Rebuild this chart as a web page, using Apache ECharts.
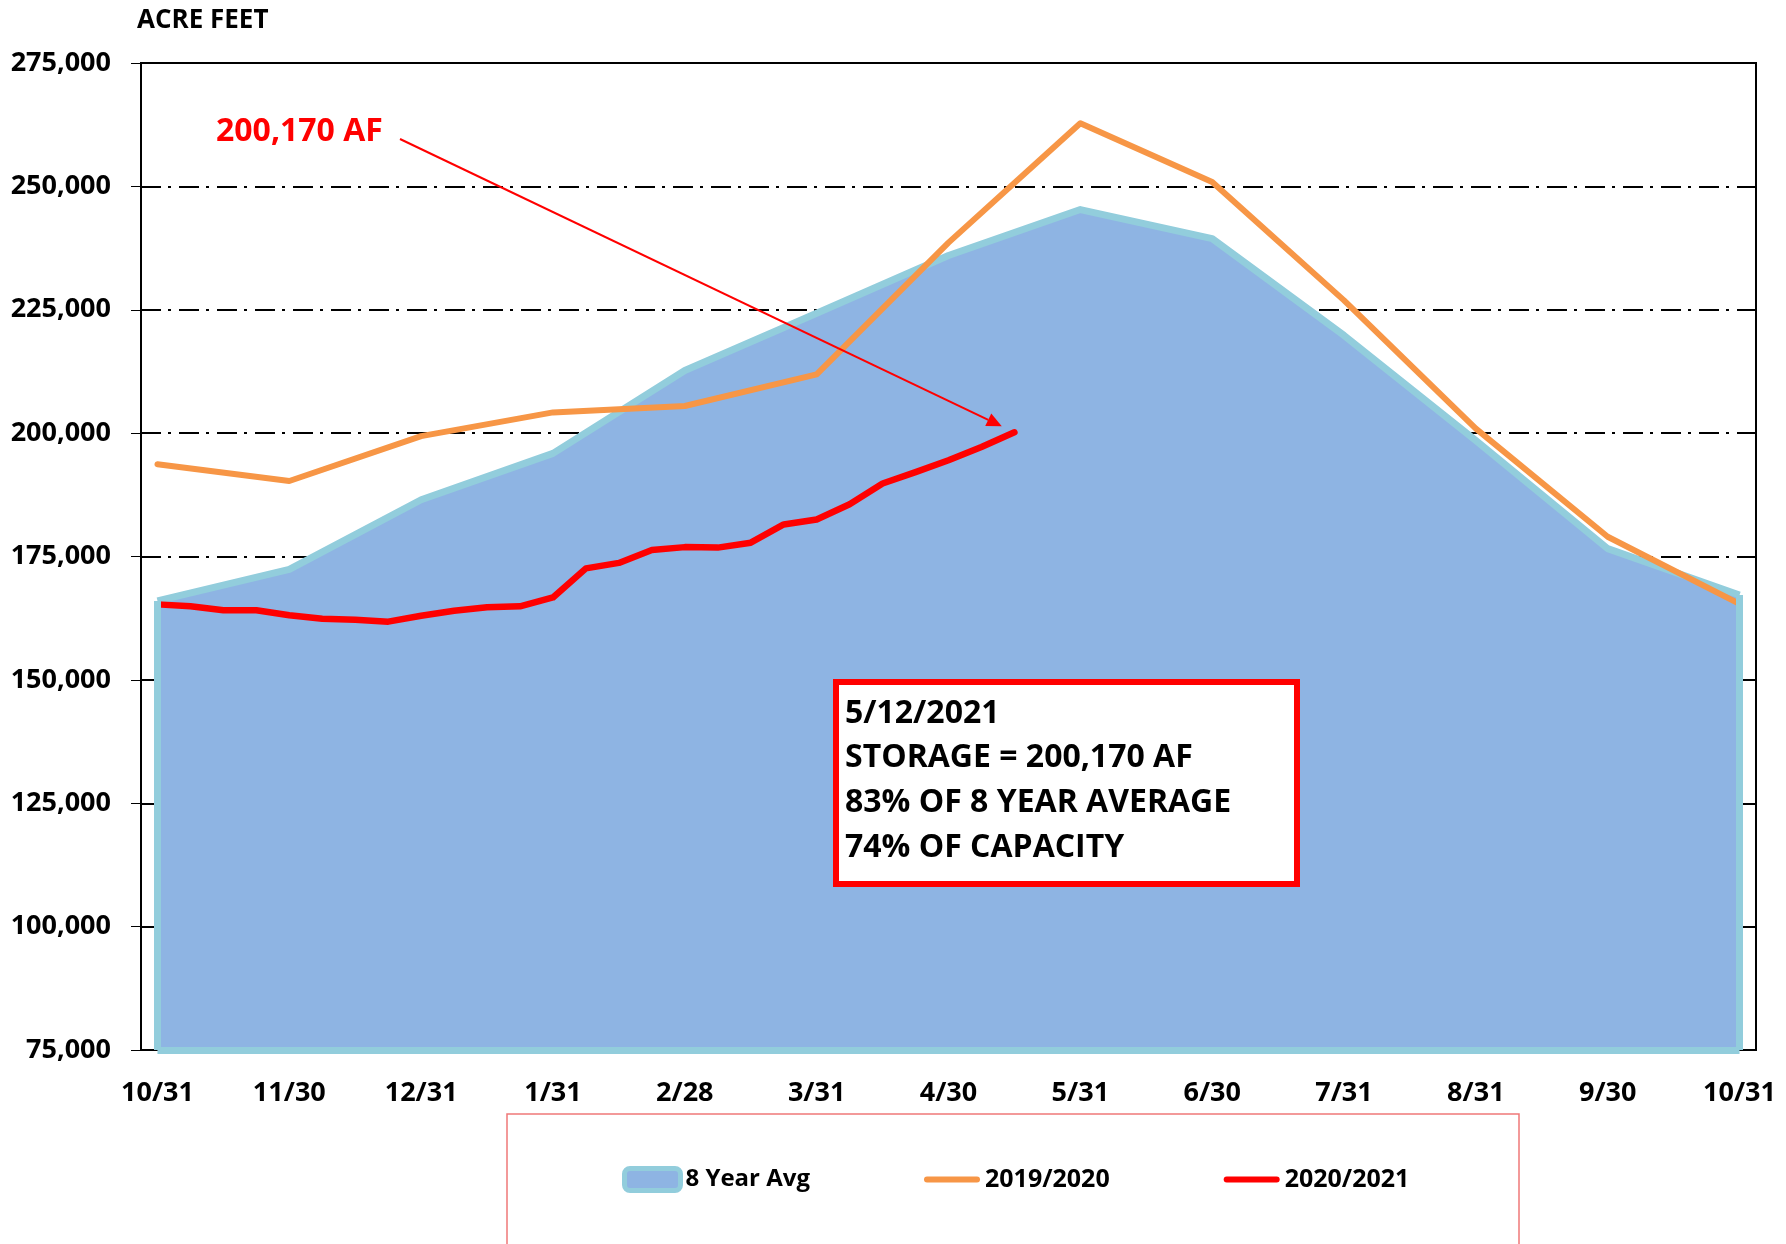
<!DOCTYPE html>
<html><head><meta charset="utf-8">
<script src="https://cdn.jsdelivr.net/npm/echarts@6/dist/echarts.min.js"></script>
<style>html,body{margin:0;padding:0;background:#fff}#c{width:1786px;height:1244px}</style>
</head><body><div id="c"></div>
<script>
// ---- data ----
const monthLabels = ['10/31','11/30','12/31','1/31','2/28','3/31','4/30','5/31','6/30','7/31','8/31','9/30','10/31'];
const avg8yr  = [166000,172400,186500,195900,212700,224300,236000,245300,239400,219800,198500,176600,167200];
const y20192020 = [193700,190300,199400,204200,205500,211900,238600,262800,250900,226900,200900,179000,165400];
const y20202021 = [165300,164900,164100,164100,163100,162400,162200,161800,163000,164000,164700,164900,166700,
                   172600,173700,176300,176900,176800,177800,181500,182500,185600,189800,192100,194500,197200,200170];
const reportDate = '5/12/2021';
const pctOfAvg = 83;
const pctOfCapacity = 74;
const stepsPerMonth = 4;

// ---- build ----
const nCats = (monthLabels.length - 1) * stepsPerMonth + 1;
const cats = Array.from({length: nCats}, (_, i) => 'c' + i);
const W = 700;
const fmt = v => v.toLocaleString('en-US');
const lastIdx = y20202021.length - 1;
const lastVal = y20202021[lastIdx];
const lineIcon = 'path://M3,0H53A3,3,0,0,1,53,6H3A3,3,0,0,1,3,0Z';

const chart = echarts.init(document.getElementById('c'));
const option = {
  animation: false,
  backgroundColor: '#fff',
  textStyle: {fontFamily: 'Open Sans'},
  title: {text: 'ACRE FEET', left: 132, top: 3,
    textStyle: {fontFamily: 'Open Sans', fontWeight: W, fontSize: 26, color: '#000'}},
  grid: {left: 141, right: 30, top: 63, bottom: 194, show: true, borderColor: '#000', borderWidth: 2},
  xAxis: [{
    type: 'category', data: cats, boundaryGap: true,
    axisLine: {lineStyle: {color: '#000', width: 2}},
    axisTick: {interval: 0, length: 10, lineStyle: {color: '#000', width: 1}},
    axisLabel: {interval: stepsPerMonth - 1, margin: 30, color: '#000', fontFamily: 'Open Sans', fontWeight: W, fontSize: 27,
      formatter: (v, i) => monthLabels[Math.round(i / stepsPerMonth)]},
    splitLine: {show: false}
  }, {
    type: 'category', data: cats, boundaryGap: true, position: 'bottom',
    axisLine: {show: false},
    axisTick: {interval: 0, inside: true, length: 10, lineStyle: {color: '#000', width: 1}},
    axisLabel: {show: false}, splitLine: {show: false}
  }],
  yAxis: {
    type: 'value', min: 75000, max: 275000, interval: 25000,
    axisLine: {show: true, lineStyle: {color: '#000', width: 2}},
    axisTick: {show: true, length: 10, lineStyle: {color: '#000', width: 1}},
    axisLabel: {margin: 30, color: '#000', fontFamily: 'Open Sans', fontWeight: W, fontSize: 27, formatter: v => fmt(v)},
    splitLine: {show: true, lineStyle: {color: '#000', width: 2, type: [20, 7, 3, 8]}}
  },
  legend: {
    left: 617, top: 1161, itemWidth: 56, itemHeight: 22, itemGap: 114,
    textStyle: {fontFamily: 'Open Sans', fontWeight: W, fontSize: 25, color: '#000'},
    data: [
      {name: '8 Year Avg', icon: 'roundRect', itemStyle: {color: '#8eb4e3', borderColor: '#92cddc', borderWidth: 5},
        textStyle: {fontSize: 24}},
      {name: '2019/2020', icon: lineIcon},
      {name: '2020/2021', icon: lineIcon}
    ]
  },
  series: [{
    name: '8 Year Avg', type: 'line', z: 2,
    data: avg8yr.map((v, k) => [k * stepsPerMonth, v]),
    symbol: 'none',
    lineStyle: {color: '#92cddc', width: 7, join: 'round'},
    itemStyle: {color: '#8eb4e3'},
    areaStyle: {color: '#8eb4e3', opacity: 1, origin: 'start'},
    markLine: {
      silent: true, symbol: 'none', label: {show: false},
      lineStyle: {color: '#92cddc', width: 7, type: 'solid'},
      data: [
        [{coord: [0, 75000]}, {coord: [0, avg8yr[0]]}],
        [{coord: [nCats - 1, 75000]}, {coord: [nCats - 1, avg8yr[avg8yr.length - 1]]}],
        [{coord: [0, 75000]}, {coord: [nCats - 1, 75000]}]
      ]
    }
  }, {
    name: '2019/2020', type: 'line', z: 3,
    data: y20192020.map((v, k) => [k * stepsPerMonth, v]),
    symbol: 'none',
    lineStyle: {color: '#f79646', width: 6, cap: 'round', join: 'round'},
    itemStyle: {color: '#f79646'}
  }, {
    name: '2020/2021', type: 'line', z: 4,
    data: y20202021,
    symbol: 'none',
    lineStyle: {color: '#ff0000', width: 6.5, cap: 'round', join: 'round'},
    itemStyle: {color: '#ff0000'}
  }]
};
chart.setOption(option);

// ---- annotations ----
const end = chart.convertToPixel({xAxisIndex: 0, yAxisIndex: 0}, [lastIdx, lastVal]);
const start = [400, 139];
const dx = end[0] - start[0], dy = end[1] - start[1];
const len = Math.sqrt(dx * dx + dy * dy);
const ux = dx / len, uy = dy / len;
const tip = [end[0] - 14 * ux, end[1] - 14 * uy];
const headL = 15, headW = 7;
const base = [tip[0] - headL * ux, tip[1] - headL * uy];
const boxLines = [reportDate, 'STORAGE = ' + fmt(lastVal) + ' AF',
  pctOfAvg + '% OF 8 YEAR AVERAGE', pctOfCapacity + '% OF CAPACITY'];
const boxTextY = [714, 758, 803, 848];

chart.setOption({
  graphic: [
    {type: 'rect', z: 0, shape: {x: 507, y: 1114, width: 1012, height: 200},
      style: {fill: 'none', stroke: '#f07878', lineWidth: 1.5}},
    {type: 'line', z: 100, shape: {x1: start[0], y1: start[1], x2: base[0], y2: base[1]},
      style: {stroke: '#ff0000', lineWidth: 2}},
    {type: 'polygon', z: 100, shape: {points: [tip,
        [base[0] - headW * uy, base[1] + headW * ux],
        [base[0] + headW * uy, base[1] - headW * ux]]},
      style: {fill: '#ff0000'}},
    {type: 'text', z: 100, style: {text: fmt(lastVal) + ' AF', x: 216, y: 132, fill: '#ff0000',
      font: W + ' 32px "Open Sans"', verticalAlign: 'middle', textVerticalAlign: 'middle'}},
    {type: 'rect', z: 100, shape: {x: 836, y: 682, width: 461, height: 202},
      style: {fill: '#fff', stroke: '#ff0000', lineWidth: 6}},
  ].concat(boxLines.map((t, k) => ({
    type: 'text', z: 101, style: {text: t, x: 845, y: boxTextY[k], fill: '#000',
      font: W + ' 32px "Open Sans"', verticalAlign: 'middle', textVerticalAlign: 'middle'}
  })))
});
</script>
</body></html>
